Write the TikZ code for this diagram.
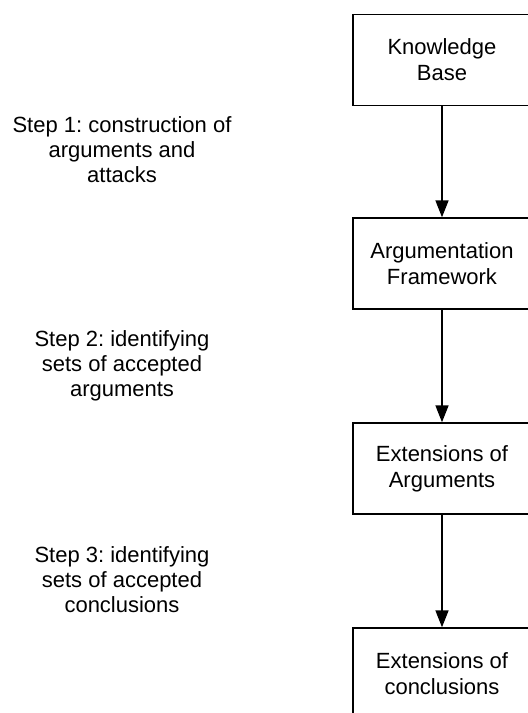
\documentclass[tikz,border=0pt]{standalone}
\usepackage{fontspec}
\setmainfont{Liberation Sans}
\usetikzlibrary{arrows.meta}
\frenchspacing
\begin{document}
\begin{tikzpicture}[x=1pt,y=-1pt,
  stage/.style={draw, line width=1.4pt, minimum width=178pt, minimum height=91pt,
    align=center, inner sep=0pt, font=\fontsize{22}{26}\selectfont},
  note/.style={align=center, inner sep=0pt, font=\fontsize{22}{25}\selectfont},
  flow/.style={line width=1.6pt, -{Triangle[length=17pt,width=13pt]}}]
\useasboundingbox (0,0) rectangle (528,713);
\clip (0,0) rectangle (528,713);

% pipeline stages
\node[stage] (kb)  at (442,60)    {Knowledge\\Base};
\node[stage] (af)  at (442,263.5) {Argumentation\\Framework};
\node[stage] (ea)  at (442,468.5) {Extensions of\\Arguments};
\node[stage] (ec)  at (442,673.5) {Extensions of\\conclusions};

% transitions between stages
\draw[flow] (kb.south) -- (af.north);
\draw[flow] (af.south) -- (ea.north);
\draw[flow] (ea.south) -- (ec.north);

% step descriptions
\node[note] (s1) at (122,150) {Step 1: construction of\\arguments and\\attacks};
\node[note] (s2) at (122,366) {Step 2: identifying\\sets of accepted\\arguments};
\node[note] (s3) at (122,580) {Step 3: identifying\\sets of accepted\\conclusions};
\end{tikzpicture}
\end{document}
